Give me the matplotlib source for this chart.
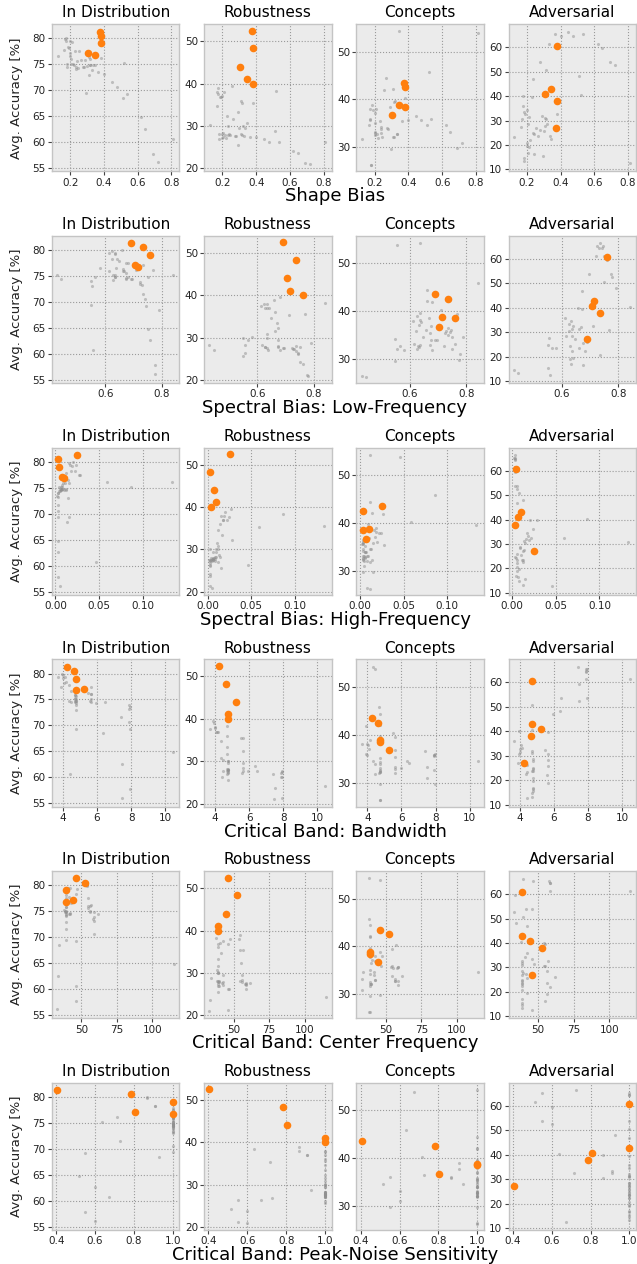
import matplotlib
matplotlib.use("Agg")
import matplotlib.pyplot as plt

titles = ["In Distribution", "Robustness", "Concepts", "Adversarial"]
row_labels = ["Shape Bias", "Spectral Bias: Low-Frequency", "Spectral Bias: High-Frequency",
              "Critical Band: Bandwidth", "Critical Band: Center Frequency",
              "Critical Band: Peak-Noise Sensitivity"]

# gray models (one entry per model, same order in every list)
shape_bias = [0.81, 0.72, 0.69, 0.645, 0.62, 0.535, 0.295, 0.51, 0.475, 0.445,
              0.40, 0.365, 0.52, 0.38, 0.315, 0.175, 0.17, 0.185, 0.19, 0.18,
              0.18, 0.235, 0.31, 0.335, 0.125, 0.235, 0.275, 0.315, 0.33, 0.345,
              0.165, 0.175, 0.20, 0.21, 0.205, 0.20, 0.20, 0.205, 0.215, 0.22,
              0.23, 0.24, 0.255, 0.245, 0.265, 0.28, 0.29, 0.31, 0.32, 0.30]
low_freq = [0.557, 0.777, 0.775, 0.76, 0.75, 0.745, 0.55, 0.79, 0.742, 0.735,
            0.73, 0.724, 0.84, 0.71, 0.768, 0.658, 0.624, 0.625, 0.64, 0.43,
            0.445, 0.55, 0.555, 0.565, 0.58, 0.672, 0.695, 0.75, 0.722, 0.635,
            0.647, 0.612, 0.633, 0.635, 0.633, 0.735, 0.638, 0.615, 0.628, 0.68,
            0.672, 0.674, 0.68, 0.627, 0.662, 0.69, 0.668, 0.662, 0.635, 0.674]
high_freq = [0.046, 0.005, 0.003, 0.003, 0.003, 0.003, 0.015, 0.013, 0.003, 0.003,
             0.003, 0.002, 0.086, 0.059, 0.133, 0.020, 0.015, 0.018, 0.022, 0.008,
             0.012, 0.003, 0.014, 0.006, 0.012, 0.005, 0.006, 0.008, 0.003, 0.012,
             0.012, 0.024, 0.017, 0.019, 0.004, 0.006, 0.008, 0.009, 0.006, 0.005,
             0.028, 0.007, 0.027, 0.004, 0.011, 0.006, 0.016, 0.014, 0.009, 0.010]
bandwidth = [4.43, 7.47, 7.94, 7.49, 10.47, 7.94, 4.76, 6.35, 7.88, 7.40,
             7.88, 7.92, 4.70, 5.50, 5.65, 3.94, 3.98, 4.17, 4.04, 4.72,
             4.72, 4.76, 4.76, 4.76, 4.45, 5.95, 6.45, 4.70, 7.90, 4.35,
             4.33, 3.70, 4.10, 4.00, 4.76, 4.76, 4.76, 5.65, 5.65, 5.60,
             5.65, 4.76, 3.90, 4.76, 4.72, 4.45, 4.72, 4.72, 4.76, 5.65]
center_freq = [46, 33, 46, 33.6, 115, 46.5, 39, 34.3, 58.7, 39.6,
               58.7, 58.0, 38, 57, 54.7, 54.2, 54.0, 46, 39, 38.5,
               39, 39, 39.5, 56.2, 39, 42.3, 41.6, 39.5, 58.6, 38.5,
               41.5, 42.4, 40.6, 47.2, 39, 39, 42.5, 56.2, 56.2, 58.7,
               55, 54.7, 39, 39, 39, 61.7, 39, 39, 39, 42.4]
peak_noise = [0.672, 0.60, 0.55, 0.60, 0.515, 0.55, 1.0, 0.927, 1.0, 0.727,
              1.0, 1.0, 0.635, 0.715, 1.0, 0.865, 0.865, 0.908, 0.908, 1.0,
              1.0, 1.0, 1.0, 1.0, 1.0, 1.0, 1.0, 1.0, 1.0, 1.0,
              1.0, 1.0, 1.0, 1.0, 1.0, 1.0, 1.0, 1.0, 1.0, 1.0,
              1.0, 1.0, 1.0, 1.0, 1.0, 1.0, 1.0, 1.0, 1.0, 1.0]
acc_id = [60.7, 56.1, 57.8, 62.6, 64.8, 69.3, 69.4, 68.5, 70.6, 71.6,
          73.2, 73.5, 75.2, 76.2, 76.1, 80.0, 79.8, 78.3, 78.2, 75.1,
          74.5, 74.0, 73.0, 74.8, 76.6, 74.4, 74.5, 74.8, 73.9, 74.8,
          77.8, 79.4, 79.4, 79.2, 75.1, 77.2, 76.6, 76.0, 75.1, 74.8,
          77.5, 75.6, 77.5, 74.3, 75.9, 74.5, 75.9, 76.4, 74.8, 74.6]
acc_rob = [26.3, 21.0, 21.3, 23.7, 24.2, 26.3, 25.6, 28.8, 26.2, 26.9,
           27.3, 27.4, 38.3, 35.4, 35.5, 38.9, 38.0, 36.9, 36.9, 28.2,
           27.0, 30.0, 28.2, 29.5, 30.2, 27.8, 27.6, 27.8, 27.6, 30.8,
           34.7, 37.6, 37.0, 37.9, 27.5, 28.0, 27.2, 28.3, 27.8, 27.2,
           32.3, 28.0, 39.5, 27.9, 31.6, 27.6, 33.4, 36.0, 30.0, 29.5]
acc_con = [53.8, 31.0, 29.8, 33.2, 34.6, 36.0, 29.7, 34.6, 35.7, 36.5,
           35.8, 35.5, 45.8, 40.3, 39.5, 36.0, 35.8, 38.9, 37.8, 26.4,
           26.3, 34.2, 32.2, 32.7, 31.8, 33.0, 34.0, 32.1, 32.7, 54.2,
           34.6, 38.0, 37.1, 38.1, 32.5, 35.1, 33.0, 33.2, 32.8, 32.0,
           35.4, 33.9, 41.9, 32.2, 44.4, 33.9, 38.5, 42.1, 39.7, 36.9]
acc_adv = [12.6, 52.6, 53.8, 59.5, 61.4, 65.3, 15.5, 48.2, 64.6, 66.4,
           64.4, 65.4, 40.4, 32.5, 30.8, 40.0, 30.5, 33.3, 32.6, 14.7,
           13.3, 24.8, 27.7, 23.6, 23.4, 46.9, 53.8, 50.7, 61.4, 22.5,
           27.2, 36.0, 34.4, 31.5, 16.9, 20.7, 19.6, 28.4, 19.0, 22.2,
           39.7, 16.4, 27.0, 24.4, 23.6, 26.1, 32.0, 31.2, 28.6, 25.6]

# highlighted models
hl_shape_bias = [0.375, 0.38, 0.38, 0.305, 0.345]
hl_low_freq = [0.69, 0.735, 0.76, 0.705, 0.715]
hl_high_freq = [0.025, 0.003, 0.004, 0.007, 0.010]
hl_bandwidth = [4.25, 4.65, 4.75, 5.25, 4.75]
hl_center_freq = [46, 52.5, 39, 44.5, 39]
hl_peak_noise = [0.405, 0.785, 1.0, 0.805, 1.0]
hl_acc_id = [81.3, 80.5, 79.0, 77.1, 76.8]
hl_acc_rob = [52.5, 48.3, 40.0, 44.0, 41.1]
hl_acc_con = [43.5, 42.5, 38.5, 36.7, 38.8]
hl_acc_adv = [27.1, 37.9, 60.7, 40.9, 42.9]

x_gray = [shape_bias, low_freq, high_freq, bandwidth, center_freq, peak_noise]
x_hl = [hl_shape_bias, hl_low_freq, hl_high_freq, hl_bandwidth, hl_center_freq, hl_peak_noise]
y_gray = [acc_id, acc_rob, acc_con, acc_adv]
y_hl = [hl_acc_id, hl_acc_rob, hl_acc_con, hl_acc_adv]

x_ticks = [[0.2, 0.4, 0.6, 0.8], [0.6, 0.8], [0.0, 0.05, 0.10],
           [4, 6, 8, 10], [50, 75, 100], [0.4, 0.6, 0.8, 1.0]]
x_lims = [(0.092, 0.847), (0.412, 0.862), (-0.004, 0.142),
          (3.36, 10.83), (29.4, 118.9), (0.378, 1.034)]
y_ticks = [[55, 60, 65, 70, 75, 80], [20, 30, 40, 50], [30, 40, 50],
           [10, 20, 30, 40, 50, 60]]
y_lims = [(54.4, 82.7), (19.3, 54.0), (25.0, 55.7), (9.2, 69.4)]

plt.style.use("bmh")
plt.rcParams["font.family"] = ["DejaVu Sans"]

fig, axes = plt.subplots(6, 4, figsize=(6.37, 12.64), dpi=100,
                         gridspec_kw=dict(left=0.0816, right=0.9985, top=0.9808,
                                          bottom=0.0269, wspace=0.195, hspace=0.44))

for r in range(6):
    for c in range(4):
        ax = axes[r, c]
        ax.set_facecolor("#ebebeb")
        ax.scatter(x_gray[r], y_gray[c], s=5, color="#909090", alpha=0.5,
                   linewidths=0, zorder=2)
        ax.scatter(x_hl[r], y_hl[c], s=30, color="#ff7f0e", linewidths=0, zorder=3)
        ax.set_xticks(x_ticks[r])
        ax.set_yticks(y_ticks[c])
        ax.set_xlim(*x_lims[r])
        ax.set_ylim(*y_lims[c])
        ax.grid(True, linestyle=":", color="#9a9a9a", linewidth=0.8)
        ax.set_axisbelow(True)
        for s in ax.spines.values():
            s.set_color("#c4c4c4")
            s.set_linewidth(1.0)
        ax.tick_params(direction="out", length=3, width=0.8, color="#444444",
                       labelsize=7.5, pad=1.5, labelcolor="#222222")
        ax.set_title(titles[c], fontsize=11, pad=5, color="black")
        if c == 0:
            ax.set_ylabel("Avg. Accuracy [%]", fontsize=9.5, labelpad=7, color="#222222")
    pos = axes[r, 0].get_position()
    fig.text(335 / 637, pos.y0 - 25 / 1264, row_labels[r], ha="center", va="center",
             fontsize=13, color="black")

fig.savefig("out.png", dpi=100)
